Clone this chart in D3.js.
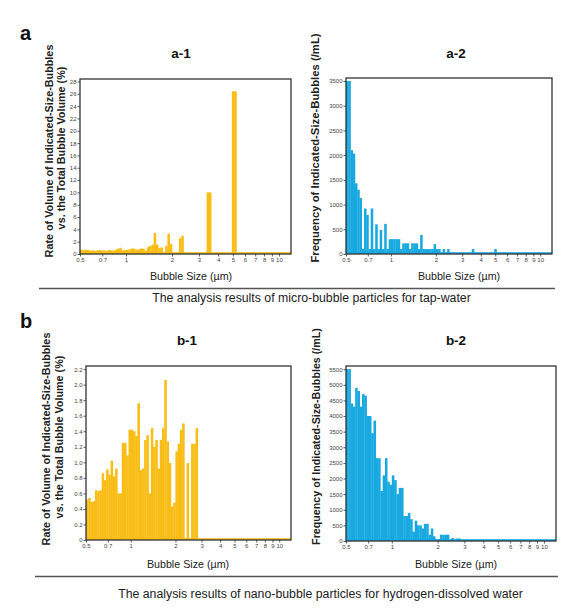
<!DOCTYPE html>
<html>
<head>
<meta charset="utf-8">
<script src="https://cdn.jsdelivr.net/npm/d3@7"></script>
<style>
body { margin: 0; background: #fff; }
svg { display: block; font-family: "Liberation Sans", Arial, Helvetica, sans-serif; }
</style>
</head>
<body>
<script>
// lower edges of the size bins (µm), bar i spans binEdges[i]..binEdges[i+1]
const binEdges = [
    0.5, 0.5176, 0.5359, 0.5548, 0.5743, 0.5946, 0.6156, 0.6373, 0.6598, 0.6830,
    0.7071, 0.7320, 0.7579, 0.7846, 0.8123, 0.8409, 0.8706, 0.9013, 0.9330, 0.9659,
    1.0, 1.0353, 1.0718, 1.1096, 1.1487, 1.1892, 1.2311, 1.2746, 1.3195, 1.3660,
    1.4142, 1.4641, 1.5157, 1.5692, 1.6245, 1.6818, 1.7411, 1.8025, 1.8661, 1.9319,
    2.0, 2.0705, 2.1435, 2.2191, 2.2974, 2.3784, 2.4623, 2.5491, 2.6390, 2.7321,
    2.8284, 2.9282, 3.0314, 3.1383, 3.2490, 3.3636, 3.4822, 3.6050, 3.7321, 3.8637,
    4.0, 4.1411, 4.2871, 4.4383, 4.5948, 4.7568, 4.9246, 5.0982, 5.2780
];
const xTickValues = [0.5, 0.7, 1, 2, 3, 4, 5, 6, 7, 8, 9, 10];

// a-1: rate of volume (%), tap-water
const a1Values = [
    0.7, 0.6, 0.7, 0.65, 0.55, 0.6, 0.5, 0.6, 0.65, 0.55,
    0.6, 0.5, 0.65, 0.6, 0.55, 0.7, 0.85, 1.0, 0.6, 0.65,
    0.7, 0.75, 0.9, 0.85, 0.7, 0.75, 0.9, 0.85, 0.55, 1.1,
    1.3, 1.5, 3.4, 1.5, 1.0, 1.05, 0.1, 1.3, 3.3, 1.65,
    0, 0, 0, 2.55, 2.95, 0, 0, 0, 0, 0,
    0, 0, 0, 0, 0, 10.0, 10.0, 0, 0, 0,
    0, 0, 0, 0, 0, 0, 26.4, 26.4
];
const a1YTicks = [0, 2, 4, 6, 8, 10, 12, 14, 16, 18, 20, 22, 24, 26, 28];

// a-2: frequency (/mL), tap-water
const a2Values = [
    3500, 3500, 2100, 2030, 1430, 1300, 1130, 100, 920, 790,
    100, 920, 100, 600, 100, 485, 100, 610, 100, 300,
    300, 300, 300, 300, 100, 215, 215, 215, 100, 215,
    215, 215, 100, 385, 100, 100, 100, 100, 100, 200,
    100, 100, 0, 100, 0, 100, 0, 0, 0, 0,
    0, 0, 0, 0, 0, 0, 100, 0, 0, 0,
    0, 0, 0, 0, 0, 0, 100
];
const a2YTicks = [0, 500, 1000, 1500, 2000, 2500, 3000, 3500];

// b-1: rate of volume (%), hydrogen-dissolved water
const b1Values = [
    0.52, 0.54, 0.49, 0.50, 0.64, 0.63, 0.64, 0.86, 0.77, 0.91,
    0.84, 1.02, 0.82, 0.92, 0.60, 0.60, 1.25, 1.25, 1.09, 1.42,
    1.42, 1.40, 1.34, 1.76, 0.90, 0.92, 1.29, 1.35, 0.60, 1.44,
    1.20, 1.29, 0.92, 1.29, 1.44, 2.06, 1.27, 0.99, 0.43, 0.48,
    1.14, 1.24, 1.42, 1.50, 0, 0.99, 0, 1.24, 1.24, 1.44
];
const b1YTicks = [0, 0.2, 0.4, 0.6, 0.8, 1.0, 1.2, 1.4, 1.6, 1.8, 2.0, 2.2];

// b-2: frequency (/mL), hydrogen-dissolved water
const b2Values = [
    5500, 5500, 4400, 4300, 4900, 4800, 4300, 4700, 4650, 4000,
    4000, 3450, 3850, 2650, 2650, 1600, 2100, 2650, 1900, 1800,
    2100, 1950, 1500, 1700, 1700, 800, 800, 900, 700, 300,
    650, 500, 500, 400, 550, 550, 200, 400, 150, 50,
    50, 200, 200, 200, 200, 0, 100, 0, 80, 80
];
const b2YTicks = [0, 500, 1000, 1500, 2000, 2500, 3000, 3500, 4000, 4500, 5000, 5500];

const yellow = '#f9bd17';
const blue = '#19a9e1';

const svg = d3.select('body')
    .append('svg')
    .attr('width', 568)
    .attr('height', 613);

const panels = [
    {
        title: 'a-1', values: a1Values, yTicks: a1YTicks, yMax: 28.4, color: yellow,
        box: [80, 79, 291, 254], titlePos: [181, 58], xTitlePos: [191, 280],
        yTitle: ['Rate of Volume of Indicated-Size-Bubbles', 'vs. the Total Bubble Volume (%)'],
        yTitleX: [52.5, 64.5], yTitleY: [151, 148], yTitleSize: 10.8, fmt: d => d
    },
    {
        title: 'a-2', values: a2Values, yTicks: a2YTicks, yMax: 3560, color: blue,
        box: [346, 78, 552, 254], titlePos: [456, 58], xTitlePos: [459, 280],
        yTitle: ['Frequency of Indicated-Size-Bubbles (/mL)'],
        yTitleX: [319], yTitleY: [148], yTitleSize: 11.3, fmt: d => d
    },
    {
        title: 'b-1', values: b1Values, yTicks: b1YTicks, yMax: 2.24, color: yellow,
        box: [86, 366, 291, 540], titlePos: [187, 345], xTitlePos: [188, 568],
        yTitle: ['Rate of Volume of Indicated-Size-Bubbles', 'vs. the Total Bubble Volume (%)'],
        yTitleX: [49.5, 62.5], yTitleY: [439, 437], yTitleSize: 10.8, fmt: d => d === 0 ? '0' : d.toFixed(1)
    },
    {
        title: 'b-2', values: b2Values, yTicks: b2YTicks, yMax: 5600, color: blue,
        box: [346, 366, 556, 541], titlePos: [456, 345], xTitlePos: [456, 568],
        yTitle: ['Frequency of Indicated-Size-Bubbles (/mL)'],
        yTitleX: [319.5], yTitleY: [436.5], yTitleSize: 10.7, fmt: d => d
    }
];

function drawPanel(p) {
    const [x0, y0, x1, y1] = p.box;
    const x = d3.scaleLog().domain([0.5, 12]).range([x0, x1]);
    const y = d3.scaleLinear().domain([0, p.yMax]).range([y1, y0]);
    const g = svg.append('g');

    // thin coloured strip along zero
    g.append('rect')
        .attr('x', x0)
        .attr('y', y1 - 1.8)
        .attr('width', x1 - x0)
        .attr('height', 1.8)
        .attr('fill', p.color);

    const bars = p.values
        .map((v, i) => ({ v: v, lo: binEdges[i], hi: binEdges[i + 1] }))
        .filter(d => d.v > 0);

    g.selectAll('rect.bar')
        .data(bars)
        .join('rect')
        .attr('class', 'bar')
        .attr('x', d => x(d.lo))
        .attr('width', d => x(d.hi) - x(d.lo) + 0.3)
        .attr('y', d => y(d.v))
        .attr('height', d => y1 - y(d.v))
        .attr('fill', p.color);

    const yAxis = d3.axisLeft(y)
        .tickValues(p.yTicks)
        .tickSize(2.5)
        .tickPadding(1)
        .tickFormat(p.fmt);
    const xAxis = d3.axisBottom(x)
        .tickValues(xTickValues)
        .tickSize(2.5)
        .tickPadding(1.5)
        .tickFormat(d => d);

    const ya = g.append('g')
        .attr('transform', `translate(${x0},0)`)
        .call(yAxis);
    const xa = g.append('g')
        .attr('transform', `translate(0,${y1})`)
        .call(xAxis);

    [ya, xa].forEach(a => {
        a.select('.domain').remove();
        a.attr('font-family', null).attr('font-size', 6);
        a.selectAll('line').attr('stroke', '#333').attr('stroke-width', 0.8);
        a.selectAll('text').attr('fill', '#444');
    });

    g.append('rect')
        .attr('x', x0)
        .attr('y', y0)
        .attr('width', x1 - x0)
        .attr('height', y1 - y0)
        .attr('fill', 'none')
        .attr('stroke', '#333')
        .attr('stroke-width', 1.3);

    g.append('text')
        .attr('x', p.titlePos[0])
        .attr('y', p.titlePos[1])
        .attr('text-anchor', 'middle')
        .attr('font-size', 13.5)
        .attr('font-weight', 'bold')
        .attr('fill', '#111')
        .text(p.title);

    g.append('text')
        .attr('x', p.xTitlePos[0])
        .attr('y', p.xTitlePos[1])
        .attr('text-anchor', 'middle')
        .attr('font-size', 10.7)
        .attr('fill', '#222')
        .text('Bubble Size (µm)');

    p.yTitle.forEach((line, i) => {
        g.append('text')
            .attr('transform', `translate(${p.yTitleX[i]},${p.yTitleY[i]}) rotate(-90)`)
            .attr('text-anchor', 'middle')
            .attr('font-size', p.yTitleSize)
            .attr('font-weight', 'bold')
            .attr('fill', '#222')
            .text(line);
    });
}

panels.forEach(drawPanel);

// panel letters
svg.append('text').attr('x', 20).attr('y', 40)
    .attr('font-size', 20).attr('font-weight', 'bold').attr('fill', '#111').text('a');
svg.append('text').attr('x', 20).attr('y', 328)
    .attr('font-size', 20).attr('font-weight', 'bold').attr('fill', '#111').text('b');

// separators and captions
svg.append('line')
    .attr('x1', 39).attr('x2', 555).attr('y1', 288.5).attr('y2', 288.5)
    .attr('stroke', '#555').attr('stroke-width', 1.5);
svg.append('line')
    .attr('x1', 35).attr('x2', 558).attr('y1', 576.5).attr('y2', 576.5)
    .attr('stroke', '#555').attr('stroke-width', 1.5);

svg.append('text')
    .attr('x', 311.5).attr('y', 302)
    .attr('text-anchor', 'middle')
    .attr('font-size', 12.3)
    .attr('fill', '#222')
    .text('The analysis results of micro-bubble particles for tap-water');
svg.append('text')
    .attr('x', 320.5).attr('y', 597.5)
    .attr('text-anchor', 'middle')
    .attr('font-size', 12.3)
    .attr('fill', '#222')
    .text('The analysis results of nano-bubble particles for hydrogen-dissolved water');
</script>
</body>
</html>
